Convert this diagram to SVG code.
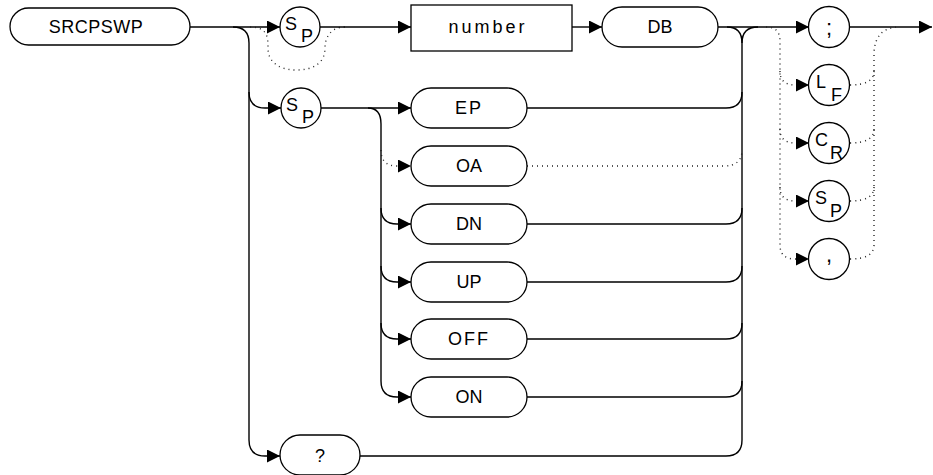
<svg xmlns="http://www.w3.org/2000/svg" width="933" height="475" viewBox="0 0 933 475">
<defs>
<marker id="arr" markerUnits="userSpaceOnUse" markerWidth="14" markerHeight="14" refX="13" refY="6.5" orient="auto">
<path d="M0,0 L13,6.5 L0,13 z" fill="#000"/>
</marker>
<style>
.ln{fill:none;stroke:#000;stroke-width:1.4}
.dt{fill:none;stroke:#222;stroke-width:1.4;stroke-dasharray:1 4}
.a{marker-end:url(#arr)}
.box{fill:#fff;stroke:#000;stroke-width:1.3}
.t{font-family:"Liberation Sans",Arial,sans-serif;font-size:18px;fill:#000;text-anchor:middle}
.s{font-family:"Liberation Sans",Arial,sans-serif;font-size:18px;fill:#000}
</style>
</defs>
<rect width="933" height="475" fill="#fff"/>
<g id="connectors">
<path class="ln a" d="M190 27 H280"/>
<path class="ln a" d="M233 27 Q249 27 249 43 V440 Q249 456 265 456 H280"/>
<path class="ln a" d="M249 92 Q249 108 265 108 H281"/>
<path class="dt" d="M250 27 C268 27 268 38 268 48 C268 64 282 70 296 70 C312 70 325 64 325 48 C325 36 332 27 345 27"/>
<path class="ln a" d="M320 27 H411"/>
<path class="ln a" d="M572 27 H602"/>
<path class="ln a" d="M718 27 H809"/>
<path class="ln" d="M727 27 Q742 27 742 43 V440"/>
<path class="ln" d="M742 43 Q742 27 758 27"/>
<path class="ln a" d="M321 108 H411"/>
<path class="ln a" d="M368 108 Q381 108 381 124 V381 Q381 397 397 397 H411"/>
<path class="dt a" d="M381 150 Q381 166 397 166 H411"/>
<path class="ln a" d="M381 208 Q381 224 397 224 H411"/>
<path class="ln a" d="M381 266 Q381 282 397 282 H411"/>
<path class="ln a" d="M381 323 Q381 339 397 339 H411"/>
<path class="ln" d="M527 108 H726 Q742 108 742 92"/>
<path class="dt" d="M527 166 H724 Q742 166 742 150"/>
<path class="ln" d="M527 224 H726 Q742 224 742 208"/>
<path class="ln" d="M527 282 H726 Q742 282 742 266"/>
<path class="ln" d="M527 339 H726 Q742 339 742 323"/>
<path class="ln" d="M527 397 H726 Q742 397 742 381"/>
<path class="ln" d="M360 456 H726 Q742 456 742 440"/>
<path class="ln a" d="M850 27 H932"/>
<path class="dt a" d="M766 27 Q780 27 780 41 V245 Q780 259 795 259 H809"/>
<path class="dt a" d="M780 71 Q780 85 795 85 H809"/>
<path class="dt a" d="M780 129 Q780 143 795 143 H809"/>
<path class="dt a" d="M780 187 Q780 201 795 201 H809"/>
<path class="dt" d="M850 259 Q874 259 874 245 V55 Q874 27 900 27"/>
<path class="dt" d="M850 85 Q874 85 874 71"/>
<path class="dt" d="M850 143 Q874 143 874 129"/>
<path class="dt" d="M850 201 Q874 201 874 187"/>
</g>
<g id="node-srcpswp"><rect class="box" x="10" y="8" width="180" height="37" rx="18.5"/><text class="t" x="96" y="33" style="letter-spacing:0.5px">SRCPSWP</text></g>
<g id="node-sp1"><circle class="box" cx="300" cy="27" r="20"/><text class="s" x="285" y="30">S</text><text class="s" x="301" y="42">P</text></g>
<g id="node-sp2"><circle class="box" cx="301" cy="108" r="20"/><text class="s" x="286" y="111">S</text><text class="s" x="302" y="123">P</text></g>
<g id="node-number"><rect class="box" x="411" y="5" width="161" height="46"/><text class="t" x="488" y="33" style="letter-spacing:3px">number</text></g>
<g id="node-db"><rect class="box" x="602" y="7" width="116" height="40" rx="20"/><text class="t" x="660" y="33">DB</text></g>
<g id="node-ep"><rect class="box" x="411" y="88" width="116" height="40" rx="20"/><text class="t" x="469" y="114" style="letter-spacing:2px">EP</text></g>
<g id="node-oa"><rect class="box" x="411" y="146" width="116" height="40" rx="20"/><text class="t" x="469" y="172">OA</text></g>
<g id="node-dn"><rect class="box" x="411" y="204" width="116" height="40" rx="20"/><text class="t" x="469" y="230">DN</text></g>
<g id="node-up"><rect class="box" x="411" y="262" width="116" height="40" rx="20"/><text class="t" x="469" y="288">UP</text></g>
<g id="node-off"><rect class="box" x="411" y="319" width="116" height="40" rx="20"/><text class="t" x="469" y="345" style="letter-spacing:2px">OFF</text></g>
<g id="node-on"><rect class="box" x="411" y="377" width="116" height="40" rx="20"/><text class="t" x="469" y="403">ON</text></g>
<g id="node-query"><rect class="box" x="280" y="435" width="80" height="40" rx="20"/><text class="t" x="320" y="462">?</text></g>
<g id="node-semicolon"><circle class="box" cx="829" cy="27" r="20.5"/><text class="t" x="829" y="35" style="font-size:22px">;</text></g>
<g id="node-lf"><circle class="box" cx="829" cy="85" r="20.5"/><text class="s" x="816" y="88">L</text><text class="s" x="831" y="101">F</text></g>
<g id="node-cr"><circle class="box" cx="829" cy="143" r="20.5"/><text class="s" x="815" y="146">C</text><text class="s" x="830" y="159">R</text></g>
<g id="node-sp3"><circle class="box" cx="829" cy="201" r="20.5"/><text class="s" x="815" y="204">S</text><text class="s" x="830" y="217">P</text></g>
<g id="node-comma"><circle class="box" cx="829" cy="259" r="20.5"/><text class="t" x="829" y="262" style="font-size:22px">,</text></g>
</svg>
